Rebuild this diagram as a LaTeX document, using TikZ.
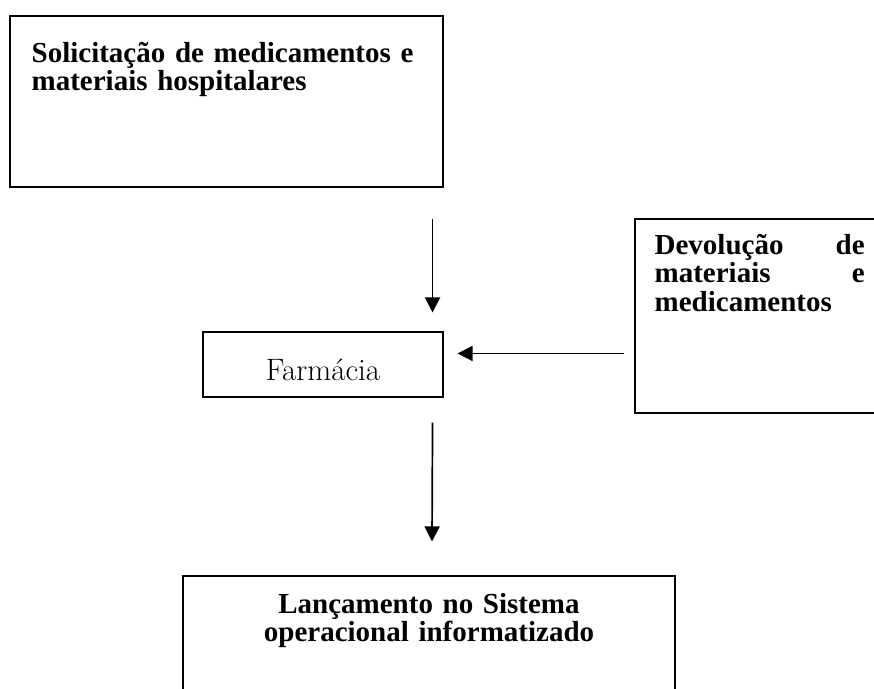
\documentclass[tikz,border=0pt]{standalone}
\usepackage{fontspec}
\usetikzlibrary{arrows.meta, positioning}
\newfontfamily\wordserif{Liberation Serif}

\begin{document}
\begin{tikzpicture}[x=1pt, y=-1pt,
  box/.style={rectangle, draw, line width=1.1pt, inner sep=0pt},
  boxtext/.style={inner sep=0pt, font=\wordserif\bfseries\fontsize{29}{28.5}\selectfont},
  arr/.style={-{Triangle[length=15pt, width=15pt]}, line width=1.7pt}]

\useasboundingbox (0,0) rectangle (874,688);
\clip (0,0) rectangle (874,688);

% Boxes (some run past the page edge)
\node[box, minimum width=433pt, minimum height=171pt] (sol) at (226.5,101.5) {};
\node[box, minimum width=240pt, minimum height=65pt] (farm) at (323,364.5) {};
\node[box, minimum width=265pt, minimum height=194pt] (dev) at (767.5,316) {};
\node[box, minimum width=492pt, minimum height=144pt] (lanc) at (429,648) {};

% Texts
\node[boxtext, anchor=base west, text width=400pt, align=left] (soltxt) at ([xshift=22pt, yshift=-47pt]sol.north west)
  {Solicitação de medicamentos e\\materiais hospitalares};
\node[anchor=base, inner sep=0pt, font=\fontsize{31}{33}\selectfont\addfontfeature{FakeBold=0.7}] (farmtxt) at ([yshift=-49pt]farm.north)
  {Farmácia};
\node[boxtext, anchor=base west, text width=210pt, align=left] (devtxt) at ([xshift=20pt, yshift=-36pt]dev.north west)
  {Devolução\hfill de\\materiais\hfill e\\medicamentos};
\node[boxtext, anchor=base, text width=460pt, align=center] (lanctxt) at ([yshift=-38pt]lanc.north)
  {Lançamento no Sistema\\operacional informatizado};

% Arrows
\draw[arr] ([xshift=-11pt, yshift=-31pt]sol.south east) -- ([xshift=-11pt, yshift=19pt]farm.north east);
\draw[arr] ([xshift=-10pt, yshift=-135pt]dev.north west) -- ([xshift=14pt, yshift=-22pt]farm.north east);
\draw[arr] ([xshift=-11pt, yshift=-25pt]farm.south east) -- ([xshift=3pt, yshift=34pt]lanc.north);

\end{tikzpicture}
\end{document}
